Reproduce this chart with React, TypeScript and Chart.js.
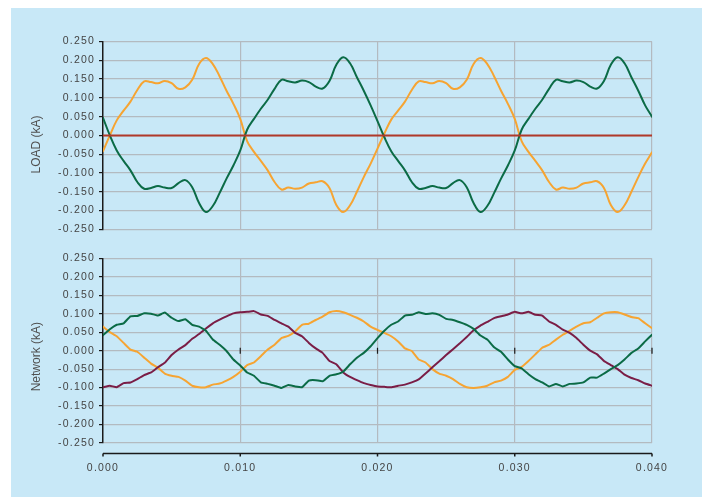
import React, { useEffect, useRef } from 'react';
import { Chart, registerables, ChartConfiguration, Plugin } from 'chart.js';

Chart.register(...registerables);

// sample clock (s)
const TIME = [
  0, 0.0005, 0.001, 0.0015, 0.002, 0.0025, 0.003, 0.0035, 0.004, 0.0045,
  0.005, 0.0055, 0.006, 0.0065, 0.007, 0.0075, 0.008, 0.0085, 0.009, 0.0095,
  0.01, 0.0105, 0.011, 0.0115, 0.012, 0.0125, 0.013, 0.0135, 0.014, 0.0145,
  0.015, 0.0155, 0.016, 0.0165, 0.017, 0.0175, 0.018, 0.0185, 0.019, 0.0195,
  0.02, 0.0205, 0.021, 0.0215, 0.022, 0.0225, 0.023, 0.0235, 0.024, 0.0245,
  0.025, 0.0255, 0.026, 0.0265, 0.027, 0.0275, 0.028, 0.0285, 0.029, 0.0295,
  0.03, 0.0305, 0.031, 0.0315, 0.032, 0.0325, 0.033, 0.0335, 0.034, 0.0345,
  0.035, 0.0355, 0.036, 0.0365, 0.037, 0.0375, 0.038, 0.0385, 0.039, 0.0395,
  0.04,
];

// LOAD (kA)
const LOAD_GREEN = [
  0.047, 0.0, -0.04, -0.068, -0.093, -0.124, -0.142, -0.14, -0.135, -0.139,
  -0.14, -0.127, -0.119, -0.138, -0.18, -0.204, -0.188, -0.153, -0.115, -0.08,
  -0.04, 0.015, 0.044, 0.071, 0.095, 0.124, 0.148, 0.144, 0.141, 0.146,
  0.142, 0.13, 0.125, 0.145, 0.188, 0.208, 0.192, 0.155, 0.119, 0.08,
  0.038, -0.005, -0.042, -0.068, -0.093, -0.124, -0.142, -0.14, -0.135, -0.139,
  -0.14, -0.127, -0.119, -0.138, -0.18, -0.204, -0.188, -0.153, -0.115, -0.08,
  -0.04, 0.015, 0.044, 0.071, 0.095, 0.124, 0.148, 0.144, 0.141, 0.146,
  0.142, 0.13, 0.125, 0.145, 0.188, 0.208, 0.192, 0.155, 0.119, 0.08,
  0.05,
];
const LOAD_ORANGE = [
  -0.042, 0.0, 0.04, 0.066, 0.09, 0.121, 0.144, 0.142, 0.139, 0.145,
  0.139, 0.124, 0.128, 0.148, 0.19, 0.206, 0.19, 0.157, 0.119, 0.084,
  0.044, -0.015, -0.044, -0.068, -0.093, -0.124, -0.144, -0.139, -0.142, -0.139,
  -0.128, -0.125, -0.122, -0.14, -0.185, -0.204, -0.186, -0.15, -0.111, -0.075,
  -0.035, 0.005, 0.042, 0.066, 0.09, 0.121, 0.144, 0.142, 0.139, 0.145,
  0.139, 0.124, 0.128, 0.148, 0.19, 0.206, 0.19, 0.157, 0.119, 0.084,
  0.044, -0.015, -0.044, -0.068, -0.093, -0.124, -0.144, -0.139, -0.142, -0.139,
  -0.128, -0.125, -0.122, -0.14, -0.185, -0.204, -0.186, -0.15, -0.111, -0.075,
  -0.045,
];
const LOAD_ZERO_T = [0, 0.04];
const LOAD_ZERO_V = [0, 0];

// Network (kA)
const NET_GREEN = [
  0.042, 0.058, 0.07, 0.074, 0.093, 0.094, 0.101, 0.1, 0.095, 0.103,
  0.089, 0.08, 0.085, 0.07, 0.065, 0.054, 0.03, 0.016, -0.001, -0.024,
  -0.04, -0.059, -0.068, -0.086, -0.09, -0.095, -0.101, -0.093, -0.097, -0.099,
  -0.081, -0.08, -0.083, -0.068, -0.064, -0.057, -0.037, -0.019, -0.006, 0.012,
  0.034, 0.054, 0.07, 0.079, 0.095, 0.097, 0.104, 0.099, 0.101, 0.097,
  0.086, 0.083, 0.077, 0.07, 0.059, 0.041, 0.03, 0.009, -0.003, -0.024,
  -0.042, -0.048, -0.064, -0.077, -0.086, -0.097, -0.09, -0.097, -0.09, -0.089,
  -0.086, -0.073, -0.073, -0.062, -0.05, -0.039, -0.024, -0.006, 0.006, 0.025,
  0.043,
];
const NET_ORANGE = [
  0.065, 0.05, 0.039, 0.021, 0.003, -0.003, -0.019, -0.035, -0.046, -0.062,
  -0.068, -0.071, -0.081, -0.095, -0.099, -0.099, -0.092, -0.089, -0.081, -0.071,
  -0.057, -0.039, -0.032, -0.015, 0.003, 0.016, 0.034, 0.04, 0.052, 0.07,
  0.073, 0.083, 0.092, 0.104, 0.107, 0.104, 0.097, 0.089, 0.079, 0.065,
  0.056, 0.048, 0.039, 0.025, 0.006, -0.001, -0.024, -0.032, -0.05, -0.062,
  -0.068, -0.077, -0.09, -0.099, -0.101, -0.099, -0.095, -0.086, -0.081, -0.071,
  -0.052, -0.044, -0.028, -0.01, 0.008, 0.016, 0.03, 0.043, 0.054, 0.065,
  0.074, 0.077, 0.089, 0.101, 0.104, 0.104, 0.098, 0.091, 0.088, 0.074,
  0.061,
];
const NET_PURPLE = [
  -0.099, -0.095, -0.099, -0.088, -0.086, -0.077, -0.066, -0.059, -0.045, -0.033,
  -0.012, 0.003, 0.015, 0.032, 0.045, 0.06, 0.074, 0.084, 0.093, 0.101,
  0.104, 0.105, 0.107, 0.098, 0.094, 0.083, 0.074, 0.065, 0.048, 0.039,
  0.021, 0.006, -0.006, -0.028, -0.037, -0.059, -0.071, -0.08, -0.088, -0.093,
  -0.097, -0.098, -0.099, -0.095, -0.092, -0.086, -0.078, -0.062, -0.045, -0.029,
  -0.012, 0.004, 0.02, 0.037, 0.055, 0.068, 0.078, 0.088, 0.093, 0.098,
  0.105, 0.101, 0.105, 0.097, 0.095, 0.079, 0.07, 0.057, 0.048, 0.034,
  0.016, 0.0, -0.01, -0.028, -0.039, -0.05, -0.065, -0.074, -0.08, -0.089,
  -0.095,
];

const Y_MIN = -0.25;
const Y_MAX = 0.25;
const Y_STEP = 0.05;
const X_MIN = 0;
const X_MAX = 0.04;
const X_STEP = 0.01;

const BG = '#c8e8f7';
const GRID = '#b3bac0';
const TEXT = '#444444';
const TITLE = '#505050';
const GREEN = '#0b6b46';
const ORANGE = '#f6a432';
const RED = '#b0392a';
const PURPLE = '#7a1d46';
const FAMILY = "'Liberation Sans', Arial, sans-serif";
const TICK_FONT = { family: FAMILY, size: 10.5 };

const pts = (xs: number[], ys: number[]) => xs.map((x, i) => ({ x, y: ys[i] }));
const fmt = (v: number | string) => {
  const n = Number(v);
  return (Math.abs(n) < 1e-9 ? 0 : n).toFixed(3);
};

// tick labels in the original are spaced out a little
const spacedTicks: Plugin<'line'> = {
  id: 'spacedTicks',
  beforeDraw(chart) {
    Object.values(chart.scales).forEach((s: any) => {
      if (s.__spaced) return;
      const orig = s.drawLabels.bind(s);
      s.drawLabels = (area: any) => {
        const c = chart.ctx as any;
        c.save();
        c.letterSpacing = '1.2px';
        orig(area);
        c.restore();
      };
      s.__spaced = true;
    });
  },
};

// rotated y title, sitting a bit below the middle like the original
const sideTitle = (text: string, dy: number): Plugin<'line'> => ({
  id: 'sideTitle',
  afterDraw(chart) {
    const { ctx, chartArea } = chart;
    ctx.save();
    ctx.translate(25.5, (chartArea.top + chartArea.bottom) / 2 + dy);
    ctx.rotate(-Math.PI / 2);
    ctx.font = `12px ${FAMILY}`;
    ctx.fillStyle = TITLE;
    ctx.textAlign = 'center';
    ctx.textBaseline = 'middle';
    ctx.fillText(text, 0, 0);
    ctx.restore();
  },
});

// Excel-style category axis: drawn a little below the plot, plus small marks on the zero line
const offsetAxis: Plugin<'line'> = {
  id: 'offsetAxis',
  afterDraw(chart) {
    const { ctx, chartArea, scales } = chart;
    const xs = scales.x;
    const axisY = chartArea.bottom + 10.5;
    const zeroY = scales.y.getPixelForValue(0);
    ctx.save();
    ctx.strokeStyle = '#1a1a1a';
    ctx.lineWidth = 1.5;
    ctx.beginPath();
    ctx.moveTo(chartArea.left, axisY);
    ctx.lineTo(chartArea.right, axisY);
    xs.ticks.forEach((t) => {
      const px = xs.getPixelForValue(t.value);
      ctx.moveTo(px, axisY);
      ctx.lineTo(px, axisY + 3);
    });
    ctx.stroke();
    ctx.lineWidth = 1.2;
    ctx.beginPath();
    xs.ticks.forEach((t) => {
      if (t.value === X_MIN) return;
      const px = xs.getPixelForValue(t.value);
      ctx.moveTo(px, zeroY - 3);
      ctx.lineTo(px, zeroY + 3);
    });
    ctx.stroke();
    ctx.restore();
  },
};

function makeConfig(
  title: string,
  titleShift: number,
  datasets: any[],
  showX: boolean,
  padding: { top: number; bottom: number }
): ChartConfiguration<'line'> {
  return {
    type: 'line',
    data: { datasets },
    options: {
      responsive: false,
      animation: false,
      layout: { padding: { left: 19, right: 50, top: padding.top, bottom: padding.bottom } },
      plugins: { legend: { display: false }, tooltip: { enabled: false } },
      elements: { point: { radius: 0 }, line: { borderJoinStyle: 'round', borderCapStyle: 'round' } },
      scales: {
        x: {
          type: 'linear',
          min: X_MIN,
          max: X_MAX,
          afterFit: (s) => {
            s.height = showX ? 35 : 0;
          },
          ticks: {
            display: showX,
            stepSize: X_STEP,
            callback: (v) => fmt(v),
            color: TEXT,
            font: TICK_FONT,
            padding: 19,
            maxRotation: 0,
            autoSkip: false,
          },
          grid: {
            color: (c: any) => (c.tick && c.tick.value === X_MIN ? 'rgba(0,0,0,0)' : GRID),
            lineWidth: 1.2,
            drawTicks: false,
          },
          border: { display: false },
        },
        y: {
          min: Y_MIN,
          max: Y_MAX,
          afterFit: (s) => {
            s.width = 73;
          },
          ticks: {
            stepSize: Y_STEP,
            callback: (v) => fmt(v),
            color: TEXT,
            font: TICK_FONT,
            padding: 4,
          },
          grid: { color: GRID, lineWidth: 1.2, tickColor: '#1a1a1a', tickLength: 4, tickWidth: 1.2 },
          border: { color: '#1a1a1a', width: 1.5 },
        },
      },
    },
    plugins: showX
      ? [spacedTicks, sideTitle(title, titleShift), offsetAxis]
      : [spacedTicks, sideTitle(title, titleShift)],
  };
}

const loadConfig = () =>
  makeConfig(
    'LOAD (kA)',
    9,
    [
      { data: pts(LOAD_ZERO_T, LOAD_ZERO_V), borderColor: RED, borderWidth: 2, order: 0 },
      { data: pts(TIME, LOAD_GREEN), borderColor: GREEN, borderWidth: 2, tension: 0.4, order: 1 },
      { data: pts(TIME, LOAD_ORANGE), borderColor: ORANGE, borderWidth: 2, tension: 0.4, order: 2 },
    ],
    false,
    { top: 33.5, bottom: 18.7 }
  );

const networkConfig = () =>
  makeConfig(
    'Network (kA)',
    6,
    [
      { data: pts(TIME, NET_GREEN), borderColor: GREEN, borderWidth: 2, tension: 0.1, order: 1 },
      { data: pts(TIME, NET_PURPLE), borderColor: PURPLE, borderWidth: 2, tension: 0.1, order: 2 },
      { data: pts(TIME, NET_ORANGE), borderColor: ORANGE, borderWidth: 2, tension: 0.1, order: 3 },
    ],
    true,
    { top: 7.7, bottom: 19 }
  );

const LineCanvas: React.FC<{ build: () => ChartConfiguration<'line'>; width: number; height: number; top: number }> = ({
  build,
  width,
  height,
  top,
}) => {
  const ref = useRef<HTMLCanvasElement | null>(null);

  useEffect(() => {
    if (!ref.current) return;
    const chart = new Chart(ref.current, build());
    return () => {
      chart.destroy();
    };
  }, [build]);

  return (
    <canvas
      ref={ref}
      width={width}
      height={height}
      style={{ position: 'absolute', left: 0, top, width, height }}
    />
  );
};

const App: React.FC = () => (
  <div style={{ position: 'absolute', left: 0, top: 0, width: 702, height: 497, background: '#fff', overflow: 'hidden' }}>
    <div style={{ position: 'absolute', left: 11, top: 8, width: 691, height: 489, background: BG }}>
      <LineCanvas build={loadConfig} width={691} height={240} top={0} />
      <LineCanvas build={networkConfig} width={691} height={249} top={240} />
    </div>
  </div>
);

export default App;
